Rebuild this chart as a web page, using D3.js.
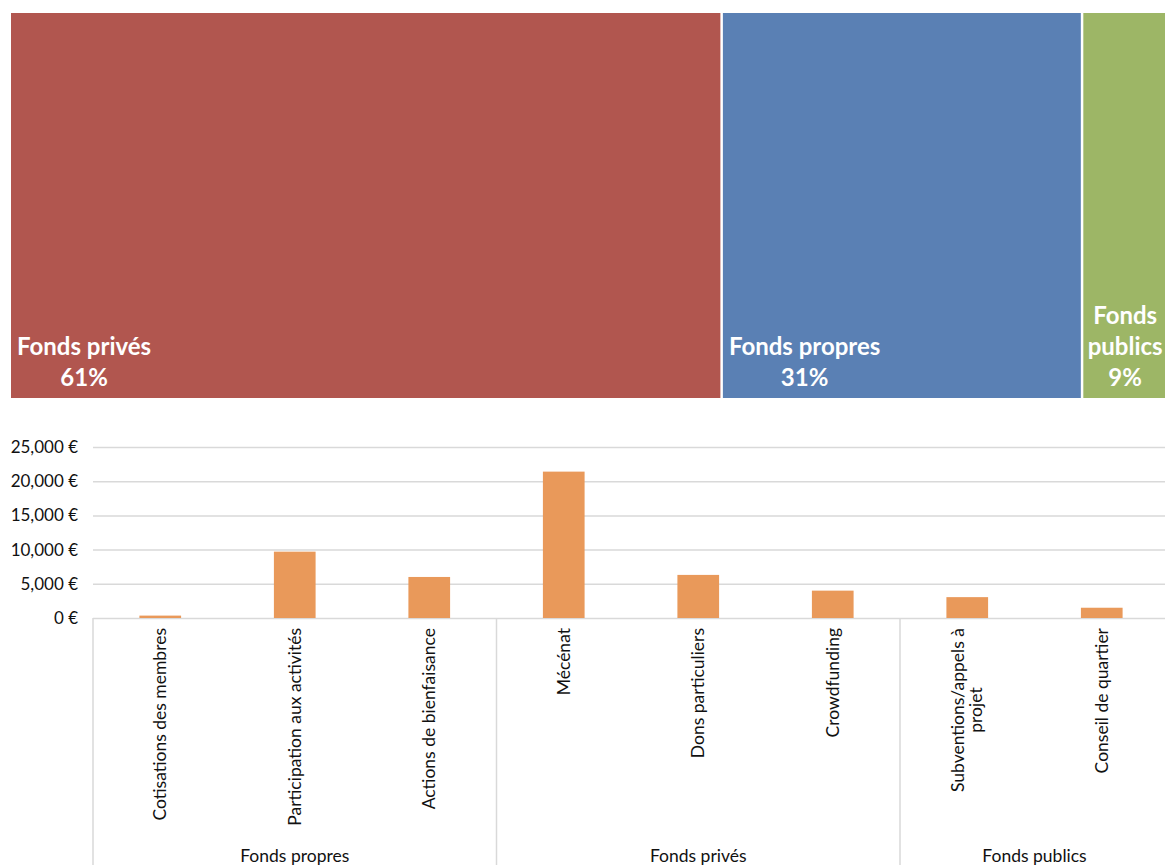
<!DOCTYPE html>
<html><head><meta charset="utf-8">
<script src="https://cdn.jsdelivr.net/npm/d3@7"></script>
<style>
html,body{margin:0;padding:0;background:#fff;overflow:hidden}
svg{display:block;font-family:Lato,"Open Sans",sans-serif}
</style></head>
<body>
<svg id="chart" width="1165" height="865"></svg>
<script>
// ---- data ----
const categories = ["Cotisations des membres","Participation aux activités","Actions de bienfaisance","Mécénat","Dons particuliers","Crowdfunding","Subventions/appels à projet","Conseil de quartier"];
const categoryGroups = ["Fonds propres","Fonds propres","Fonds propres","Fonds privés","Fonds privés","Fonds privés","Fonds publics","Fonds publics"];
const values = [350, 9700, 6000, 21400, 6300, 4000, 3050, 1500];
const groupNames = ["Fonds propres","Fonds privés","Fonds publics"];
const groupColors = {"Fonds privés":"#b1564f","Fonds propres":"#5a80b4","Fonds publics":"#9db666"};
const yTicks = [0, 5000, 10000, 15000, 20000, 25000];
const barColor = "#e9995a";

const svg = d3.select("#chart");
const W = 1165;

// ---- treemap ----
const groupTotals = groupNames.map(g => ({name:g, value: d3.sum(values.filter((v,i)=>categoryGroups[i]===g))}));
const total = d3.sum(groupTotals, d => d.value);
const root = d3.hierarchy({name:"root", children: groupTotals}).sum(d => d.children ? 0 : d.value).sort((a,b)=>b.value-a.value);
const tmX = 11, tmY = 13;
d3.treemap().tile(d3.treemapDice).size([1172, 385]).paddingInner(2.5)(root);
const tm = svg.append("g").attr("transform", `translate(${tmX},${tmY})`);
const leaves = tm.selectAll("g.leaf").data(root.leaves()).join("g").attr("class","leaf");
leaves.append("rect")
  .attr("x", d=>d.x0).attr("y", d=>d.y0)
  .attr("width", d=>d.x1-d.x0).attr("height", d=>d.y1-d.y0)
  .attr("fill", d=>groupColors[d.data.name]);
leaves.each(function(d){
  const g = d3.select(this);
  const pct = Math.round(d.value/total*100) + "%";
  const fs = 24;
  const visRight = Math.min(d.x1, W - tmX);
  const avail = visRight - d.x0 - 12;
  const t = g.append("text").attr("font-size", fs).attr("font-weight", 700).attr("fill","#fff").text(d.data.name)
     .attr("x", d.x0+6).attr("y", d.y1-43);
  const w = t.node().getComputedTextLength();
  if (w <= avail) {
    g.append("text").attr("font-size", fs).attr("font-weight",700).attr("fill","#fff")
      .attr("text-anchor","middle").attr("x", d.x0+6+w/2).attr("y", d.y1-12).text(pct);
  } else {
    t.remove();
    const lines = d.data.name.split(" ").concat([pct]);
    const cx = (d.x0 + visRight)/2 + 1;
    lines.forEach((ln, i) => {
      g.append("text").attr("font-size", fs).attr("font-weight",700).attr("fill","#fff")
        .attr("text-anchor","middle").attr("x", cx)
        .attr("y", d.y1 - 12 - (lines.length-1-i)*31).text(ln);
    });
  }
});

// ---- bar chart ----
const x0 = 93, yTop = 447, yBase = 618;
const x = d3.scaleBand().domain(categories).range([x0, 1169]).paddingInner(0.69).paddingOuter(0.345);
const y = d3.scaleLinear().domain([0, 25000]).range([yBase, yTop]);

const yAxis = d3.axisLeft(y).tickValues(yTicks).tickSize(-(W - x0)).tickPadding(15)
  .tickFormat(v => d3.format(",")(v) + " €");
const ga = svg.append("g").attr("transform", `translate(${x0},0)`).call(yAxis);
ga.select(".domain").remove();
ga.selectAll(".tick line").attr("stroke","#d9d9d9").attr("stroke-width",1.5);
ga.selectAll(".tick text").attr("font-size",17).attr("fill","#111").attr("font-family","Lato, sans-serif");

svg.append("g").selectAll("rect").data(categories).join("rect")
  .attr("x", c=>x(c)).attr("width", x.bandwidth())
  .attr("y", (c,i)=>y(values[i])).attr("height", (c,i)=>yBase - y(values[i]))
  .attr("fill", barColor);

// category labels (rotated)
const lfs = 17.5;
const xa = svg.append("g");
categories.forEach((c,i) => {
  const cx = x(c) + x.bandwidth()/2;
  const maxW = 205;
  const words = c.split(" ");
  const tmp = xa.append("text").attr("font-size",lfs).text(c);
  let lines = [c];
  if (tmp.node().getComputedTextLength() > maxW) {
    lines = [words.slice(0,-1).join(" "), words[words.length-1]];
  }
  tmp.remove();
  const widths = lines.map(l => { const t = xa.append("text").attr("font-size",lfs).text(l); const w = t.node().getComputedTextLength(); t.remove(); return w; });
  const maxLine = d3.max(widths);
  const lh = 18;
  const top = 628;
  lines.forEach((l, k) => {
    const off = (k - (lines.length-1)/2) * lh;
    xa.append("text").attr("font-size",lfs).attr("fill","#111")
      .attr("text-anchor","middle")
      .attr("transform", `translate(${cx + off},${top + maxLine/2}) rotate(-90)`)
      .attr("dy","0.35em").text(l);
  });
});

// group separators and labels
const step = x.step();
const groupStarts = [];
groupNames.forEach(g => {
  const idx = categoryGroups.map((cg,i)=>cg===g?i:-1).filter(i=>i>=0);
  const start = x(categories[idx[0]]) - x.paddingOuter()*step;
  const end = x(categories[idx[idx.length-1]]) - x.paddingOuter()*step + step;
  groupStarts.push(start);
  svg.append("text").attr("font-size",17.5).attr("fill","#111").attr("text-anchor","middle")
    .attr("x", (start+end)/2).attr("y", 862).text(g);
});
svg.append("g").selectAll("line").data(groupStarts).join("line")
  .attr("x1", d=>d).attr("x2", d=>d).attr("y1", yBase).attr("y2", 865)
  .attr("stroke","#d9d9d9").attr("stroke-width",1.5);
</script>
</body></html>
